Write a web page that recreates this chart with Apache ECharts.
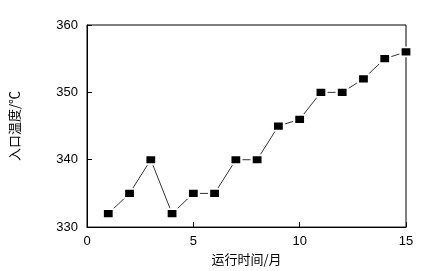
<!DOCTYPE html>
<html><head><meta charset="utf-8">
<script src="https://cdn.jsdelivr.net/npm/echarts@6/dist/echarts.min.js"></script>
<style>html,body{margin:0;padding:0;background:#fff}#c{width:444px;height:271px}</style>
</head><body><div id="c"></div>
<script>
const months = [1,2,3,4,5,6,7,8,9,10,11,12,13,14,15];
const temps = [332,335,340,332,335,335,340,340,345,346,350,350,352,355,356];
const xTicks = [0,5,10,15];
const yTicks = [330,340,350,360];
const chart = echarts.init(document.getElementById('c'));
chart.setOption({
  animation:false,
  grid:{left:85,right:38,top:25,bottom:42,show:true,borderColor:'#000',borderWidth:1,backgroundColor:'transparent'},
  xAxis:{type:'value',min:xTicks[0],max:xTicks[xTicks.length-1],interval:5,
    name:'运行时间/月',nameLocation:'middle',nameGap:22,
    nameTextStyle:{fontFamily:'Noto Sans CJK SC',fontSize:13,color:'#000'},
    axisLine:{lineStyle:{color:'#000',width:1}},
    axisTick:{inside:true,length:5,lineStyle:{color:'#000'}},
    axisLabel:{fontFamily:'Liberation Sans',fontSize:13,color:'#000',margin:8},
    splitLine:{show:false}},
  yAxis:{type:'value',min:yTicks[0],max:yTicks[yTicks.length-1],interval:10,
    name:'入口温度/℃',nameLocation:'middle',nameGap:66,nameRotate:90,
    nameTextStyle:{fontFamily:'Noto Sans CJK SC',fontSize:13,color:'#000'},
    axisLine:{lineStyle:{color:'#000',width:1}},
    axisTick:{inside:true,length:5,lineStyle:{color:'#000'}},
    axisLabel:{fontFamily:'Liberation Sans',fontSize:13,color:'#000',margin:9},
    splitLine:{show:false}},
  series:[{type:'line',data:months.map((m,i)=>[m,temps[i]]),
    symbol:'rect',symbolSize:[11,9],
    lineStyle:{color:'#333',width:1},
    itemStyle:{color:'#000',borderColor:'#fff',borderWidth:2},
    clip:false}]
});
</script></body></html>
